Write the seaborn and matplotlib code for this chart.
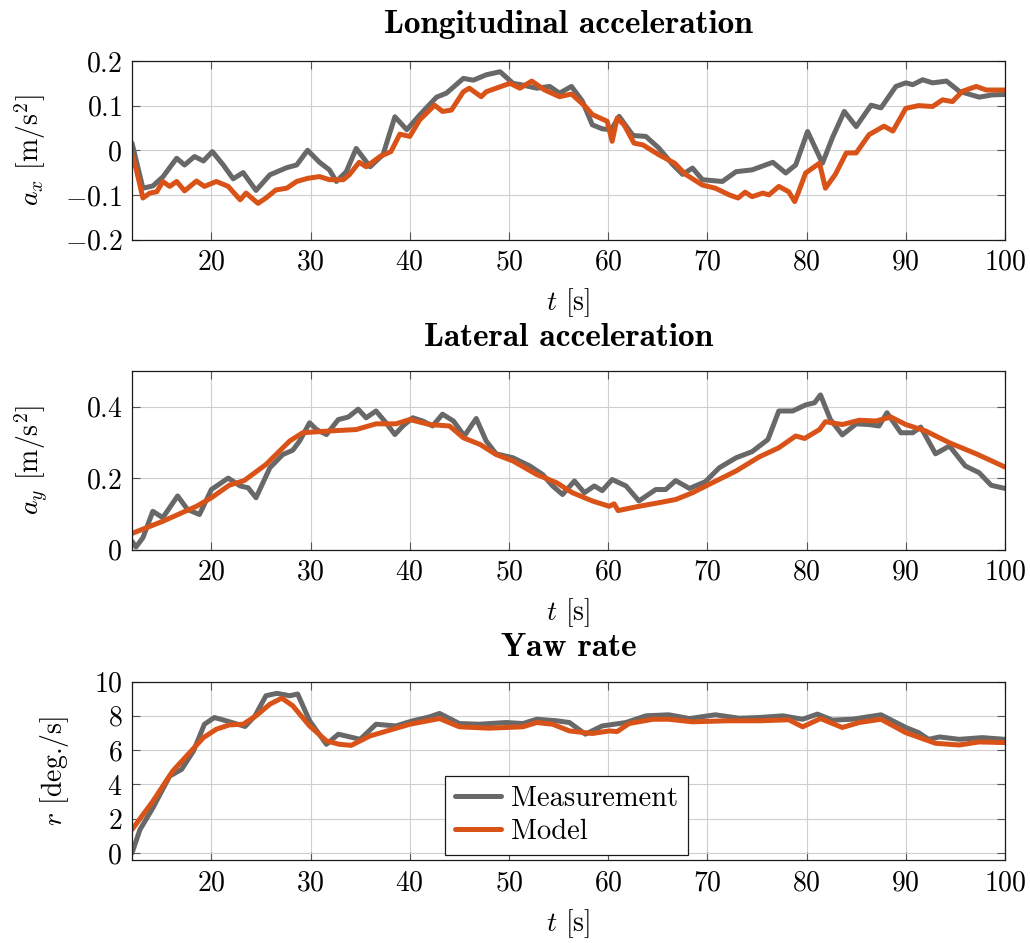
import numpy as np
import pandas as pd
import matplotlib
matplotlib.use("Agg")
import matplotlib.pyplot as plt
from matplotlib.ticker import FuncFormatter
import seaborn as sns

# ---------------- data ----------------
series_names = ["Measurement", "Model"]
x_ticks = [20, 30, 40, 50, 60, 70, 80, 90, 100]

# Longitudinal acceleration
ax_meas_t = [12.0, 13.1, 14.1, 15.1, 16.5, 17.3, 18.3, 19.2, 20.1, 21.2, 22.2, 23.2, 24.5, 25.9,
             27.6, 28.6, 29.7, 30.9, 31.9, 32.6, 33.6, 34.6, 36.0, 37.3, 38.5, 39.7, 41.0, 42.7,
             43.7, 45.4, 46.4, 47.7, 49.1, 50.4, 51.4, 52.8, 54.1, 55.1, 56.3, 57.4, 58.4, 59.4,
             60.3, 61.1, 62.5, 63.8, 65.1, 66.5, 67.5, 68.5, 69.5, 71.5, 72.9, 74.5, 76.6, 77.9,
             78.9, 80.1, 81.6, 82.6, 83.8, 85.0, 86.5, 87.5, 89.0, 90.0, 90.7, 91.7, 92.7, 94.1,
             95.4, 97.4, 98.7, 100.0]
ax_meas = [0.016, -0.085, -0.080, -0.060, -0.018, -0.033, -0.014, -0.024, -0.003, -0.033, -0.064,
           -0.050, -0.090, -0.055, -0.039, -0.033, 0.000, -0.027, -0.044, -0.070, -0.048, 0.004,
           -0.037, -0.010, 0.075, 0.046, 0.079, 0.119, 0.128, 0.161, 0.157, 0.169, 0.176, 0.150,
           0.146, 0.139, 0.143, 0.128, 0.143, 0.110, 0.057, 0.048, 0.046, 0.076, 0.033, 0.031,
           0.005, -0.032, -0.054, -0.040, -0.066, -0.070, -0.048, -0.044, -0.027, -0.051, -0.033,
           0.042, -0.029, 0.028, 0.087, 0.053, 0.101, 0.095, 0.143, 0.151, 0.147, 0.158, 0.151,
           0.155, 0.132, 0.119, 0.124, 0.125]
ax_model_t = [12.0, 12.4, 13.1, 13.8, 14.5, 15.1, 15.8, 16.5, 17.3, 18.5, 19.3, 20.5, 21.7, 22.9,
              23.5, 24.7, 25.5, 26.5, 27.6, 28.6, 29.7, 30.9, 31.9, 33.3, 33.9, 34.9, 35.6, 37.0,
              38.1, 39.0, 40.0, 41.0, 42.5, 43.3, 44.2, 45.4, 46.0, 47.2, 47.7, 48.7, 50.1, 51.1,
              52.3, 53.6, 55.1, 56.3, 57.7, 58.4, 59.9, 60.4, 60.9, 61.6, 62.6, 63.5, 65.1, 66.7,
              67.8, 69.5, 70.8, 72.2, 73.1, 73.8, 74.5, 75.6, 76.2, 77.2, 78.2, 78.8, 79.2, 79.9,
              81.3, 81.9, 82.9, 84.0, 85.0, 86.3, 87.8, 88.7, 90.0, 91.3, 92.7, 93.7, 94.7, 95.7,
              97.1, 98.1, 99.1, 100.0]
ax_model = [-0.010, -0.040, -0.107, -0.096, -0.093, -0.070, -0.081, -0.070, -0.091, -0.069, -0.081,
            -0.070, -0.081, -0.111, -0.096, -0.119, -0.107, -0.089, -0.085, -0.070, -0.063, -0.059,
            -0.066, -0.066, -0.055, -0.027, -0.037, -0.014, -0.003, 0.036, 0.031, 0.068, 0.101,
            0.087, 0.090, 0.131, 0.139, 0.120, 0.131, 0.139, 0.150, 0.139, 0.155, 0.135, 0.120,
            0.126, 0.098, 0.080, 0.065, 0.020, 0.072, 0.057, 0.016, 0.012, -0.010, -0.029, -0.054,
            -0.078, -0.085, -0.100, -0.107, -0.094, -0.104, -0.096, -0.100, -0.081, -0.093, -0.115,
            -0.093, -0.051, -0.029, -0.085, -0.054, -0.006, -0.006, 0.035, 0.054, 0.043, 0.094,
            0.100, 0.098, 0.113, 0.109, 0.132, 0.143, 0.135, 0.135, 0.135]

# Lateral acceleration
ay_meas_t = [12.0, 12.4, 13.1, 14.1, 15.1, 16.6, 17.6, 18.8, 20.0, 21.7, 22.9, 23.7, 24.5, 25.9,
             27.2, 28.2, 28.9, 29.9, 30.6, 31.6, 32.8, 33.8, 34.8, 35.6, 36.6, 37.6, 38.5, 39.3,
             40.3, 41.3, 42.3, 43.3, 44.4, 45.5, 46.7, 47.7, 48.7, 50.4, 52.1, 53.4, 54.4, 55.4,
             56.6, 57.6, 58.6, 59.4, 60.4, 61.8, 63.1, 64.8, 65.8, 66.8, 68.2, 69.8, 71.2, 72.9,
             74.5, 76.1, 77.2, 78.6, 79.9, 80.8, 81.4, 82.4, 83.6, 85.0, 86.3, 87.3, 88.1, 89.5,
             90.7, 91.5, 93.0, 94.4, 96.0, 97.4, 98.6, 100.0]
ay_meas = [0.023, 0.007, 0.033, 0.107, 0.089, 0.150, 0.112, 0.098, 0.168, 0.200, 0.178, 0.173,
           0.145, 0.229, 0.266, 0.278, 0.304, 0.355, 0.336, 0.322, 0.364, 0.371, 0.393, 0.369,
           0.388, 0.355, 0.322, 0.346, 0.369, 0.360, 0.346, 0.379, 0.360, 0.318, 0.367, 0.304,
           0.268, 0.257, 0.234, 0.210, 0.178, 0.154, 0.192, 0.159, 0.178, 0.165, 0.196, 0.178,
           0.136, 0.168, 0.168, 0.193, 0.171, 0.190, 0.229, 0.257, 0.274, 0.308, 0.388, 0.388,
           0.405, 0.411, 0.433, 0.364, 0.321, 0.352, 0.350, 0.346, 0.383, 0.327, 0.327, 0.343,
           0.268, 0.290, 0.234, 0.215, 0.180, 0.171]
ay_model_t = [12.0, 15.1, 18.5, 20.0, 21.8, 23.3, 25.5, 27.9, 29.2, 31.9, 34.6, 36.6, 38.6, 40.0,
              42.0, 44.0, 45.4, 47.1, 48.7, 50.4, 52.8, 54.8, 56.4, 58.4, 60.1, 60.6, 61.0, 63.1,
              65.1, 66.8, 68.5, 70.5, 72.9, 75.2, 77.2, 78.9, 79.8, 81.3, 81.9, 83.6, 85.3, 87.0,
              88.5, 90.0, 92.0, 94.4, 97.1, 100.0]
ay_model = [0.045, 0.079, 0.121, 0.145, 0.180, 0.193, 0.238, 0.304, 0.327, 0.332, 0.336, 0.352,
            0.352, 0.364, 0.350, 0.346, 0.313, 0.294, 0.266, 0.248, 0.210, 0.187, 0.159, 0.136,
            0.121, 0.128, 0.109, 0.121, 0.131, 0.140, 0.159, 0.187, 0.220, 0.259, 0.285, 0.318,
            0.311, 0.336, 0.358, 0.350, 0.362, 0.360, 0.371, 0.350, 0.332, 0.299, 0.268, 0.231]

# Yaw rate
r_meas_t = [12.0, 12.8, 14.1, 15.8, 17.0, 18.2, 19.3, 20.3, 21.5, 23.4, 24.4, 25.5, 26.6, 27.9,
            28.7, 29.9, 31.6, 32.8, 35.0, 36.6, 38.6, 40.3, 42.0, 43.0, 45.0, 47.0, 49.7, 51.4,
            52.8, 54.8, 56.1, 57.7, 59.4, 61.8, 63.8, 66.1, 68.2, 70.8, 73.2, 75.2, 77.6, 79.6,
            81.1, 82.6, 84.6, 87.5, 90.0, 91.3, 92.3, 93.4, 95.4, 97.7, 100.0]
r_meas = [0.0, 1.37, 2.63, 4.49, 4.88, 5.95, 7.51, 7.90, 7.71, 7.38, 8.00, 9.17, 9.31, 9.17, 9.27,
          7.71, 6.34, 6.93, 6.63, 7.51, 7.41, 7.71, 7.94, 8.14, 7.55, 7.51, 7.61, 7.55, 7.80, 7.71,
          7.61, 6.93, 7.41, 7.61, 8.00, 8.06, 7.84, 8.06, 7.86, 7.90, 8.00, 7.80, 8.10, 7.75, 7.80,
          8.06, 7.32, 7.02, 6.63, 6.77, 6.63, 6.73, 6.63]
r_model_t = [12.0, 14.1, 16.1, 17.8, 19.2, 20.5, 21.8, 23.2, 24.5, 25.9, 27.1, 28.2, 29.9, 31.6,
             32.9, 34.1, 36.0, 38.3, 40.0, 43.0, 45.0, 48.0, 51.4, 52.8, 54.4, 56.1, 58.4, 60.1,
             60.9, 62.1, 64.5, 66.1, 68.5, 71.9, 75.2, 78.2, 79.6, 81.4, 83.6, 85.3, 87.5, 90.0,
             93.0, 95.4, 97.4, 100.0]
r_model = [1.37, 3.02, 4.78, 5.85, 6.73, 7.22, 7.47, 7.51, 8.00, 8.68, 9.03, 8.59, 7.41, 6.54, 6.34,
           6.28, 6.83, 7.22, 7.51, 7.84, 7.36, 7.28, 7.36, 7.61, 7.51, 7.12, 6.97, 7.12, 7.08, 7.55,
           7.80, 7.80, 7.65, 7.71, 7.71, 7.77, 7.36, 7.84, 7.32, 7.61, 7.80, 7.02, 6.40, 6.30, 6.48,
           6.44]

panels = [
    dict(title="Longitudinal acceleration", ylabel=r"$a_x$ [m/s$^2$]",
         ylim=(-0.2, 0.2), yticks=[-0.2, -0.1, 0, 0.1, 0.2],
         data=((ax_meas_t, ax_meas), (ax_model_t, ax_model))),
    dict(title="Lateral acceleration", ylabel=r"$a_y$ [m/s$^2$]",
         ylim=(0, 0.5), yticks=[0, 0.2, 0.4],
         data=((ay_meas_t, ay_meas), (ay_model_t, ay_model))),
    dict(title="Yaw rate", ylabel=r"$r$ [deg./s]",
         ylim=(-0.4, 10), yticks=[0, 2, 4, 6, 8, 10],
         data=((r_meas_t, r_meas), (r_model_t, r_model))),
]

# ---------------- style ----------------
sns.set_theme(style="whitegrid")
plt.rcParams.update({
    "font.family": ["cmr10", "DejaVu Serif"],
    "mathtext.fontset": "cm",
    "axes.formatter.use_mathtext": True,
    "axes.unicode_minus": True,
    "axes.edgecolor": "#1a1a1a",
    "axes.linewidth": 0.9,
    "grid.color": "#cfcfcf",
    "grid.linewidth": 0.8,
    "text.color": "black",
    "axes.labelcolor": "black",
    "axes.titlecolor": "black",
    "xtick.labelcolor": "black",
    "ytick.labelcolor": "black",
})

palette = {"Measurement": "#686868", "Model": "#D95319"}
FS = 20

W, H = 1030, 943
fig = plt.figure(figsize=(W / 100, H / 100), dpi=100)
left, right = 132, 1005
tops = [61, 371, 681.5]
ah = 178.5
title_pads = [20, 18, 18]
ylabel_x = [48, 50, 71]  # right edge of rotated y label, pixels

fmt = FuncFormatter(lambda v, pos: r"$%s$" % ("%g" % v))

for i, p in enumerate(panels):
    ax = fig.add_axes([left / W, 1 - (tops[i] + ah) / H, (right - left) / W, ah / H])
    frames = []
    for name, (tt, vv) in zip(series_names, p["data"]):
        frames.append(pd.DataFrame({"t": tt, "v": vv, "series": name}))
    df = pd.concat(frames, ignore_index=True)
    sns.lineplot(data=df, x="t", y="v", hue="series", palette=palette, ax=ax,
                 estimator=None, sort=False, linewidth=3.6, legend=(i == 2))
    ax.set_xlim(12, 100)
    ax.set_ylim(*p["ylim"])
    ax.set_xticks(x_ticks)
    ax.set_yticks(p["yticks"])
    ax.xaxis.set_major_formatter(fmt)
    ax.yaxis.set_major_formatter(fmt)
    ax.grid(True, which="major")
    ax.tick_params(axis="both", which="major", direction="in", length=6, width=0.8,
                   color="#555555", labelcolor="black", labelsize=FS, pad=7,
                   top=True, right=True, bottom=True, left=True)
    ax.set_title(p["title"], fontsize=24, fontfamily="cmb10", pad=title_pads[i], color="black")
    ax.set_xlabel(r"$t$ [s]", fontsize=FS, labelpad=8, color="black")
    ax.set_ylabel(p["ylabel"], fontsize=FS, color="black")
    ax.yaxis.set_label_coords((ylabel_x[i] - left) / (right - left), 0.5)
    for s in ax.spines.values():
        s.set_color("#1a1a1a")
    if i == 2:
        leg = ax.legend(loc="lower left", bbox_to_anchor=(0.359, 0.028), borderaxespad=0,
                        fontsize=20.5, frameon=True, fancybox=False, framealpha=1,
                        edgecolor="#1a1a1a", handlelength=1.6, handletextpad=0.35,
                        borderpad=0.35, labelspacing=0.22)
        leg.get_frame().set_linewidth(0.9)
        for line in leg.get_lines():
            line.set_linewidth(3.6)
        for txt in leg.get_texts():
            txt.set_color("black")

fig.savefig("out.png", dpi=100)
